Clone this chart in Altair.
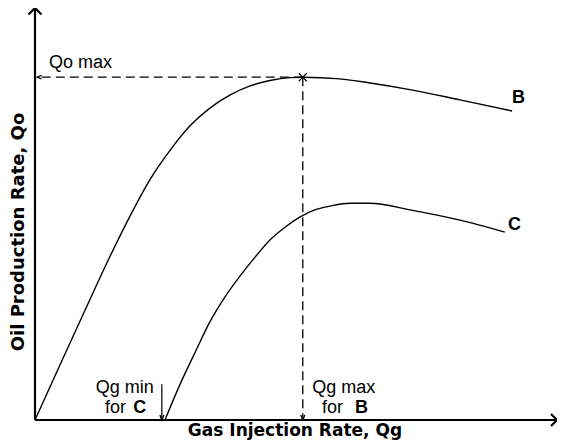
import altair as alt
import pandas as pd

# ---- data (arbitrary units, both axes run 0..10) ----
b_qg = [0, 0.48, 0.96, 1.44, 1.82, 2.20, 2.59, 2.97, 3.35, 3.74, 4.12, 4.50, 4.89, 5.13, 5.84, 6.42, 7.18, 8.14, 9.14]
b_qo = [0, 1.34, 2.67, 3.98, 4.95, 5.83, 6.55, 7.14, 7.57, 7.89, 8.11, 8.24, 8.31, 8.32, 8.28, 8.18, 8.02, 7.77, 7.50]

c_qg = [2.49, 2.78, 3.07, 3.35, 3.64, 3.93, 4.22, 4.50, 4.79, 5.08, 5.36, 5.65, 6.03, 6.42, 7.18, 8.14, 9.00]
c_qo = [0, 0.87, 1.65, 2.38, 2.99, 3.50, 3.96, 4.37, 4.68, 4.93, 5.10, 5.19, 5.26, 5.26, 5.10, 4.85, 4.56]

qg_max_b = 5.13     # Qg max for B (peak of curve B)
qo_max = 8.32       # Qo max
qg_min_c = 2.43     # Qg min for C
axis_max = 10

# ---- scales ----
xs = alt.Scale(domain=[0, axis_max], nice=False, zero=False)
ys = alt.Scale(domain=[0, axis_max], nice=False, zero=False)
X = alt.X("qg:Q", scale=xs, axis=None)
Y = alt.Y("qo:Q", scale=ys, axis=None)

curves = pd.concat([
    pd.DataFrame({"qg": b_qg, "qo": b_qo, "curve": "B"}),
    pd.DataFrame({"qg": c_qg, "qo": c_qo, "curve": "C"}),
])

line_layer = alt.Chart(curves).mark_line(
    color="black", strokeWidth=1.4, interpolate="monotone"
).encode(x=X, y=Y, detail="curve:N")


def rule(df, **kw):
    return alt.Chart(pd.DataFrame(df)).mark_rule(color="black", **kw).encode(
        x=X, y=Y, x2="qg2:Q", y2="qo2:Q")


axes = rule({"qg": [0, 0], "qo": [0, 0], "qg2": [0, axis_max], "qo2": [axis_max, 0]},
            strokeWidth=2.2)

dashed = rule({"qg": [qg_max_b, qg_max_b], "qo": [qo_max, qo_max],
               "qg2": [0.04, qg_max_b], "qo2": [qo_max, 0]},
              strokeWidth=1.3, strokeDash=[9, 5])

qgmin_stem = rule({"qg": [qg_min_c], "qo": [0.87], "qg2": [qg_min_c], "qo2": [0]},
                  strokeWidth=1.2)


def sym(qg, qo, shape, size, sw):
    return alt.Chart(pd.DataFrame({"qg": qg, "qo": qo})).mark_point(
        shape=shape, size=size, filled=False, stroke="black", strokeWidth=sw, opacity=1
    ).encode(x=X, y=Y)


up_head = sym([0], [axis_max], "M-1,1L0,0L1,1", 169, 2.2)
right_head = sym([axis_max], [0], "M-1,-1L0,0L-1,1", 144, 2.2)
down_heads = sym([qg_max_b, qg_min_c], [0, 0], "M-0.4,-1L0,0L0.4,-1", 100, 1.3)
left_head = sym([0.04], [qo_max], "M1,-0.4L0,0L1,0.4", 81, 1.3)
peak_mark = sym([qg_max_b], [qo_max], "M-1,-1L1,1M-1,1L1,-1", 64, 1.2)


def label(text, qg, qo, font="Liberation Sans", size=18, weight="normal",
          align="left", angle=0):
    return alt.Chart(pd.DataFrame({"qg": [qg], "qo": [qo]})).mark_text(
        text=text, font=font, fontSize=size, fontWeight=weight, align=align,
        baseline="alphabetic", angle=angle, color="black"
    ).encode(x=X, y=Y)


texts = [
    label("Qo  max", 0.27, 8.544),
    label("Qg min", 1.72, 0.655, align="center"),
    label("for", 1.34, 0.17),
    label("C", 1.88, 0.17, weight="bold"),
    label("Qg max", 5.31, 0.655),
    label("for", 5.50, 0.17),
    label("B", 6.13, 0.17, weight="bold"),
    label("B", 9.14, 7.694, weight="bold"),
    label("C", 9.06, 4.60, weight="bold"),
    label("Gas Injection Rate, Qg", 4.98, -0.39, font="DejaVu Sans", size=17,
          weight="bold", align="center"),
    label("Oil Production Rate, Qo", -0.22, 4.563, font="DejaVu Sans", size=18,
          weight="bold", align="center", angle=270),
]

chart = alt.layer(
    axes, dashed, qgmin_stem, line_layer,
    up_head, right_head, down_heads, left_head, peak_mark,
    *texts
).properties(
    width=522, height=412,
    autosize=alt.AutoSizeParams(type="none"),
    padding={"left": 27, "top": 0, "right": 0, "bottom": 20},
    background="white",
).configure_view(stroke=None)

chart.save("out.html", embed_options={"renderer": "svg", "actions": False})
